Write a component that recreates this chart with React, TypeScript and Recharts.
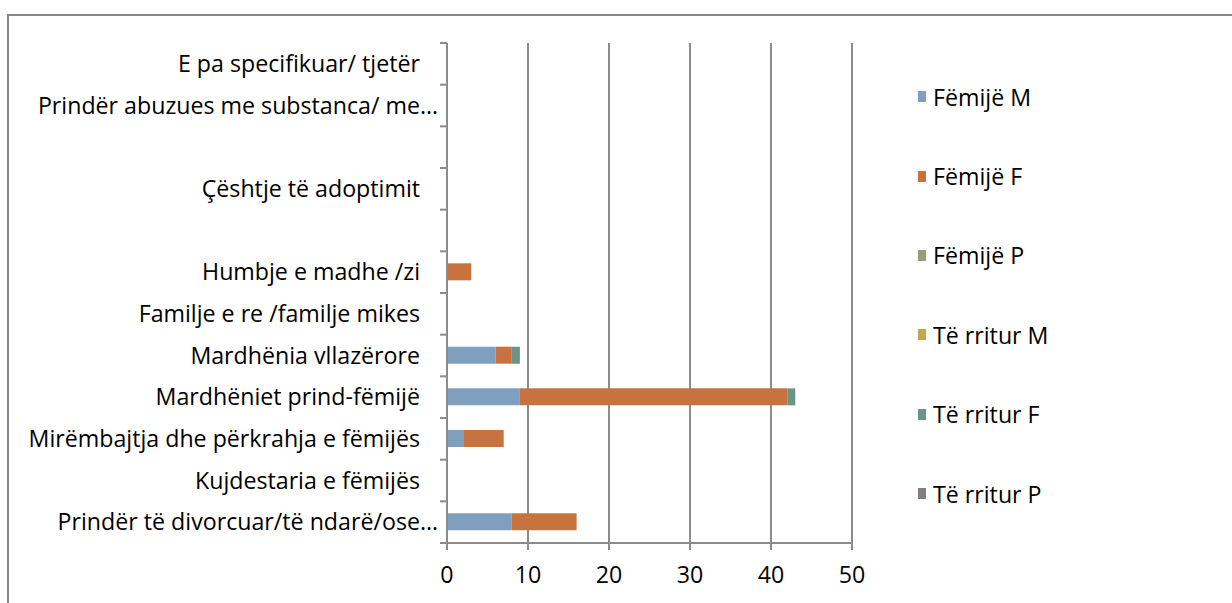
import React from "react";
import { BarChart, Bar, XAxis, YAxis, CartesianGrid, Legend } from "recharts";

const categories = [
  "E pa specifikuar/ tjetër",
  "Prindër abuzues me substanca/ me…",
  "",
  "Çështje të adoptimit",
  "",
  "Humbje e madhe /zi",
  "Familje e re /familje mikes",
  "Mardhënia vllazërore",
  "Mardhëniet prind-fëmijë",
  "Mirëmbajtja dhe përkrahja e fëmijës",
  "Kujdestaria e fëmijës",
  "Prindër të divorcuar/të ndarë/ose…",
];

const femijeM = [0, 0, 0, 0, 0, 0, 0, 6, 9, 2, 0, 8];
const femijeF = [0, 0, 0, 0, 0, 3, 0, 2, 33, 5, 0, 8];
const femijeP = [0, 0, 0, 0, 0, 0, 0, 0, 0, 0, 0, 0];
const rriturM = [0, 0, 0, 0, 0, 0, 0, 0, 0, 0, 0, 0];
const rriturF = [0, 0, 0, 0, 0, 0, 0, 1, 1, 0, 0, 0];
const rriturP = [0, 0, 0, 0, 0, 0, 0, 0, 0, 0, 0, 0];

const xTicks = [0, 10, 20, 30, 40, 50];

const series = [
  { key: "fm", name: "Fëmijë M", values: femijeM, color: "#809fbf" },
  { key: "ff", name: "Fëmijë F", values: femijeF, color: "#c8723f" },
  { key: "fp", name: "Fëmijë P", values: femijeP, color: "#9a9c76" },
  { key: "rm", name: "Të rritur M", values: rriturM, color: "#c6a452" },
  { key: "rf", name: "Të rritur F", values: rriturF, color: "#6a9689" },
  { key: "rp", name: "Të rritur P", values: rriturP, color: "#877c7c" },
];

const data = categories.map((c, i) => {
  const row: any = { id: String(i) };
  series.forEach((s) => {
    row[s.key] = s.values[i];
  });
  return row;
});

const FONT = "'Open Sans', 'Noto Sans', sans-serif";
const FONT_SIZE = 23.2;
const GRID = "#8c8c8c";
const TICK_SIZE = 7;
const TICK_MARGIN = 2;

const YTick = (props: any) => {
  const { x, y, payload, index, visibleTicksCount } = props;
  const off = payload.offset ?? 0;
  const label = categories[Number(payload.value)];
  const lx1 = x + TICK_MARGIN;
  const lx2 = x + TICK_MARGIN + TICK_SIZE;
  const truncated = label && label.endsWith("…");
  return (
    <g>
      <line x1={lx1} x2={lx2} y1={y - off} y2={y - off} stroke={GRID} strokeWidth={2} />
      {index === visibleTicksCount - 1 && (
        <line x1={lx1} x2={lx2} y1={y + off} y2={y + off} stroke={GRID} strokeWidth={2} />
      )}
      {label ? (
        <text
          x={truncated ? x : x - 18}
          y={y}
          dy="0.35em"
          textAnchor="end"
          fill="#000"
          fontFamily={FONT}
          fontSize={FONT_SIZE}
        >
          {label}
        </text>
      ) : null}
    </g>
  );
};

const LegendContent = () => {
  return (
    <div style={{ fontFamily: FONT, fontSize: FONT_SIZE, color: "#000" }}>
      {series.map((s) => (
        <div key={s.key} style={{ display: "flex", alignItems: "center", height: 79.4 }}>
          <span style={{ display: "inline-block", width: 8, height: 11, background: s.color, marginRight: 7 }} />
          <span>{s.name}</span>
        </div>
      ))}
    </div>
  );
};

export default function App() {
  return (
    <div style={{ position: "absolute", left: 0, top: 0, width: 1232, height: 603, background: "#fff", overflow: "hidden" }}>
      <div
        style={{
          position: "absolute",
          left: 7,
          top: 14,
          width: 1240,
          height: 620,
          border: "2px solid #878787",
          boxSizing: "border-box",
        }}
      />
      <div style={{ position: "absolute", left: 0, top: 0 }}>
        <BarChart
          width={1232}
          height={603}
          data={data}
          layout="vertical"
          margin={{ top: 43, right: 380, bottom: 20, left: 0 }}
          barSize={17}
        >
          <CartesianGrid horizontal={false} vertical={true} stroke={GRID} strokeWidth={2} />
          <XAxis
            type="number"
            domain={[0, 50]}
            ticks={xTicks}
            interval={0}
            height={40}
            axisLine={{ stroke: GRID, strokeWidth: 2 }}
            tickLine={{ stroke: GRID, strokeWidth: 2 }}
            tickSize={7}
            tickMargin={17}
            tick={{ fill: "#000", fontFamily: FONT, fontSize: FONT_SIZE }}
          />
          <YAxis
            type="category"
            dataKey="id"
            width={447}
            interval={0}
            axisLine={{ stroke: GRID, strokeWidth: 2 }}
            tickLine={false}
            tickSize={TICK_SIZE}
            tickMargin={TICK_MARGIN}
            tick={<YTick />}
          />
          <Legend
            layout="vertical"
            align="center"
            verticalAlign="middle"
            content={<LegendContent />}
            wrapperStyle={{ position: "absolute", left: 918, top: 57, width: 250, height: 480 }}
          />
          {series.map((s) => (
            <Bar
              key={s.key}
              dataKey={s.key}
              name={s.name}
              stackId="a"
              fill={s.color}
              isAnimationActive={false}
            />
          ))}
        </BarChart>
      </div>
    </div>
  );
}
